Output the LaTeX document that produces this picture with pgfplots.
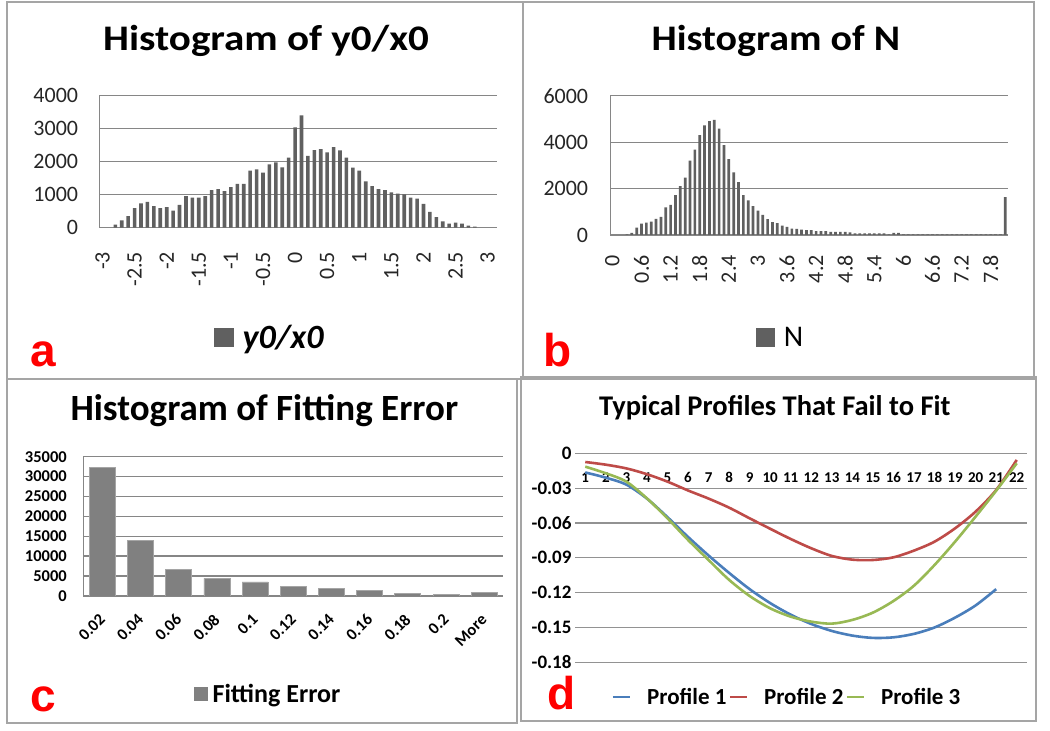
\documentclass[border=0pt]{standalone}
\usepackage{graphicx}
\usepackage{pgfplots}
\pgfplotsset{compat=1.18}
\usepackage{fontspec}
\setmainfont{Carlito}
\newfontfamily\letterfont{Liberation Sans}
\definecolor{gridc}{RGB}{134,134,134}
\definecolor{barab}{RGB}{96,96,96}
\definecolor{barc}{RGB}{128,128,128}
\definecolor{barcedge}{RGB}{165,165,165}
\definecolor{bordc}{RGB}{165,165,165}
\definecolor{pblue}{RGB}{74,126,187}
\definecolor{pred}{RGB}{190,75,72}
\definecolor{pgreen}{RGB}{152,185,84}
\definecolor{lettred}{RGB}{255,0,0}
\newcommand\fs[1]{\fontsize{#1}{#1}\selectfont}

\pgfplotstableread{
x y
2 90
3 220
4 350
5 590
6 740
7 780
8 650
9 590
10 620
11 520
12 690
13 960
14 910
15 910
16 960
17 1140
18 1170
19 1110
20 1230
21 1330
22 1330
23 1730
24 1770
25 1670
26 1920
27 1980
28 1830
29 2120
30 3040
31 3400
32 2180
33 2350
34 2380
35 2280
36 2440
37 2340
38 2120
39 1820
40 1730
41 1400
42 1260
43 1170
44 1140
45 1070
46 1030
47 1010
48 910
49 880
50 720
51 480
52 320
53 190
54 120
55 150
56 120
57 60
58 30
}\dataA

\pgfplotstableread{
x y
3 30
4 90
5 320
6 490
7 535
8 580
9 690
10 780
11 1190
12 1300
13 1720
14 2100
15 2470
16 3200
17 3680
18 4300
19 4720
20 4910
21 4960
22 4580
23 3870
24 3270
25 2700
26 2280
27 1720
28 1490
29 1240
30 1050
31 870
32 680
33 550
34 510
35 400
36 350
37 270
38 260
39 230
40 215
41 215
42 170
43 170
44 170
45 130
46 130
47 130
48 130
49 115
50 70
51 70
52 70
53 70
54 70
55 70
56 70
57 30
58 90
59 90
60 30
61 25
62 25
63 25
64 25
65 25
66 25
67 25
68 25
69 25
70 25
71 25
72 25
73 25
74 25
75 25
76 25
77 25
78 25
79 25
80 25
81 1630
}\dataB

\pgfplotstableread{
x y
0 32250
1 13900
2 6620
3 4440
4 3520
5 2510
6 1930
7 1340
8 750
9 500
10 1000
}\dataC

\pgfplotstableread{
x p1 p2 p3
1 -0.0165 -0.0075 -0.0115
2 -0.0210 -0.0098 -0.0172
3 -0.0270 -0.0130 -0.0244
4 -0.0390 -0.0180 -0.0388
5 -0.0550 -0.0244 -0.0560
6 -0.0720 -0.0320 -0.0746
7 -0.0880 -0.0390 -0.0919
8 -0.1030 -0.0468 -0.1090
9 -0.1170 -0.0560 -0.1229
10 -0.1290 -0.0650 -0.1335
11 -0.1390 -0.0738 -0.1407
12 -0.1470 -0.0818 -0.1450
13 -0.1530 -0.0884 -0.1467
14 -0.1570 -0.0916 -0.1435
15 -0.1590 -0.0919 -0.1372
16 -0.1585 -0.0896 -0.1272
17 -0.1555 -0.0838 -0.1140
18 -0.1500 -0.0761 -0.0962
19 -0.1415 -0.0646 -0.0761
20 -0.1310 -0.0502 -0.0545
21 -0.1170 -0.0316 -0.0322
22 nan -0.0057 -0.0086
}\dataD

\begin{document}
\begin{tikzpicture}[x=1pt,y=1pt]
\useasboundingbox (0pt,0pt) rectangle (1050pt,731pt);
\fill[white] (0pt,0pt) rectangle (1050pt,731pt);
\draw[bordc, line width=1.3pt] (7pt,729pt) rectangle (523pt,352pt);
\draw[bordc, line width=1.3pt] (523pt,729pt) rectangle (1034pt,352pt);
\draw[bordc, line width=1.3pt] (7pt,352pt) rectangle (517pt,8pt);
\draw[bordc, line width=1.3pt] (521pt,354pt) rectangle (1036pt,10pt);

% ---------- panel a
\begin{axis}[
 at={(99.3pt,503.3pt)}, anchor=south west, scale only axis,
 width=398pt, height=132pt,
 xmin=-0.5, xmax=61.5, ymin=0, ymax=4000,
 scaled ticks=false,
 axis x line*=bottom, axis y line*=left,
 axis line style={gridc, line width=1pt},
 ymajorgrids, major grid style={gridc, line width=0.9pt},
 major tick length=0pt,
 xtick={0,5,...,60},
 xticklabels={-3,-2.5,-2,-1.5,-1,-0.5,0,0.5,1,1.5,2,2.5,3},
 ytick={0,1000,2000,3000,4000}, yticklabels={0,1000,2000,3000,4000},
 tick label style={font=\fs{22}, text=black!85, inner sep=0pt},
 xticklabel style={rotate=90, anchor=east},
 xticklabel shift=24pt, yticklabel shift=21pt,
 title={\fs{36}\bfseries\scalebox{1.14}[1]{Histogram of y0/x0}},
 title style={at={(0.419,1)}, anchor=base, yshift=38.7pt, inner sep=0pt},
 legend style={at={(0.428,-0.832)}, anchor=center, draw=none, fill=none, font=\fs{34}\bfseries\itshape,
   /tikz/every odd column/.append style={column sep=7pt}},
]
\addplot[ybar, bar width=3.6pt, fill=barab, draw=none,
  legend image code/.code={\fill[barab] (0pt,-9.5pt) rectangle (20pt,9.5pt);}] table[x=x,y=y] {\dataA};
\addlegendentry{y0/x0}
\end{axis}

% ---------- panel b
\begin{axis}[
 at={(610pt,496pt)}, anchor=south west, scale only axis,
 width=397.7pt, height=139.3pt,
 xmin=-0.5, xmax=81.5, ymin=0, ymax=6000,
 scaled ticks=false,
 axis x line*=bottom, axis y line*=left,
 axis line style={gridc, line width=1pt},
 ymajorgrids, major grid style={gridc, line width=0.9pt},
 major tick length=0pt,
 xtick={0,6,...,78},
 xticklabels={0,0.6,1.2,1.8,2.4,3,3.6,4.2,4.8,5.4,6,6.6,7.2,7.8},
 ytick={0,2000,4000,6000}, yticklabels={0,2000,4000,6000},
 tick label style={font=\fs{22}, text=black!85, inner sep=0pt},
 xticklabel style={rotate=90, anchor=east},
 xticklabel shift=20pt, yticklabel shift=21.7pt,
 title={\fs{36}\bfseries\scalebox{1.11}[1]{Histogram of N}},
 title style={at={(0.417,1)}, anchor=base, yshift=38.7pt, inner sep=0pt},
 legend style={at={(0.429,-0.736)}, anchor=center, draw=none, fill=none, font=\fs{30},
   /tikz/every odd column/.append style={column sep=7pt}},
]
\addplot[ybar, bar width=2.7pt, fill=barab, draw=none,
  legend image code/.code={\fill[barab] (0pt,-9.5pt) rectangle (19pt,9.5pt);}] table[x=x,y=y] {\dataB};
\addlegendentry{N}
\end{axis}

% ---------- panel c
\begin{axis}[
 at={(83.3pt,135pt)}, anchor=south west, scale only axis,
 width=420pt, height=139.3pt,
 xmin=-0.5, xmax=10.5, ymin=0, ymax=35000,
 scaled ticks=false,
 axis x line*=bottom, axis y line*=left,
 axis line style={gridc, line width=1.4pt},
 ymajorgrids, major grid style={gridc, line width=1.4pt},
 major tick length=0pt,
 xtick={0,...,10},
 xticklabels={0.02,0.04,0.06,0.08,0.1,0.12,0.14,0.16,0.18,0.2,More},
 ytick={0,5000,...,35000}, yticklabels={0,5000,10000,15000,20000,25000,30000,35000},
 tick label style={font=\fs{16.5}\bfseries, text=black, inner sep=0pt},
 xticklabel style={font=\fs{16.5}\bfseries, rotate=45, anchor=east},
 xticklabel shift=21pt, yticklabel shift=16.3pt,
 title={\fs{37}\bfseries Histogram of Fitting Error},
 title style={at={(0.431,1)}, anchor=base, yshift=30pt, inner sep=0pt},
 legend style={at={(0.44,-0.703)}, anchor=center, draw=none, fill=none, font=\fs{26}\bfseries,
   /tikz/every odd column/.append style={column sep=3pt}},
]
\addplot[ybar, bar width=26pt, fill=barc, draw=barcedge, line width=0.8pt,
  legend image code/.code={\fill[barc] (0pt,-6.5pt) rectangle (13pt,6.5pt);}] table[x=x,y=y] {\dataC};
\addlegendentry{Fitting Error}
\end{axis}

% ---------- panel d
\begin{axis}[
 at={(575pt,68.7pt)}, anchor=south west, scale only axis,
 width=452pt, height=209pt,
 xmin=0.5, xmax=22.5, ymin=-0.18, ymax=0,
 scaled ticks=false,
 axis line style={draw=none},
 ymajorgrids, major grid style={gridc!90, line width=1.1pt},
 major tick length=0pt,
 xtick={1,...,22},
 xticklabels={1,2,3,4,5,6,7,8,9,10,11,12,13,14,15,16,17,18,19,20,21,22},
 xticklabel pos=upper,
 ytick={-0.18,-0.15,-0.12,-0.09,-0.06,-0.03,0},
 yticklabels={-0.18,-0.15,-0.12,-0.09,-0.06,-0.03,0},
 tick label style={font=\fs{19}\bfseries, text=black, inner sep=0pt},
 xticklabel style={font=\fs{15}\bfseries, anchor=north, yshift=-19pt},
 yticklabel shift=3.3pt,
 title={\fs{28.5}\bfseries Typical Profiles That Fail to Fit},
 title style={at={(0.442,1)}, anchor=base, yshift=31.6pt, inner sep=0pt},
 legend style={at={(0.469,-0.166)}, anchor=center, draw=none, fill=none, font=\fs{23}\bfseries,
   legend columns=3,
   /tikz/every odd column/.append style={column sep=14pt},
   /tikz/every even column/.append style={column sep=0pt}},
 legend image code/.code={\draw[#1] (0pt,0pt) -- (17pt,0pt);},
 unbounded coords=jump,
]
\addplot[pblue, line width=2.6pt, smooth, tension=0.5] table[x=x,y=p1] {\dataD};
\addlegendentry{Profile 1}
\addplot[pred, line width=2.6pt, smooth, tension=0.5] table[x=x,y=p2] {\dataD};
\addlegendentry{Profile 2}
\addplot[pgreen, line width=2.6pt, smooth, tension=0.5] table[x=x,y=p3] {\dataD};
\addlegendentry{Profile 3}
\end{axis}

\node[anchor=base west, inner sep=0pt, text=lettred, font=\letterfont\bfseries\fs{46}] at (30pt,364pt) {a};
\node[anchor=base west, inner sep=0pt, text=lettred, font=\letterfont\bfseries\fs{46}] at (543pt,364pt) {b};
\node[anchor=base west, inner sep=0pt, text=lettred, font=\letterfont\bfseries\fs{46}] at (30pt,19pt) {c};
\node[anchor=base west, inner sep=0pt, text=lettred, font=\letterfont\bfseries\fs{46}] at (547pt,21pt) {d};
\end{tikzpicture}
\end{document}
